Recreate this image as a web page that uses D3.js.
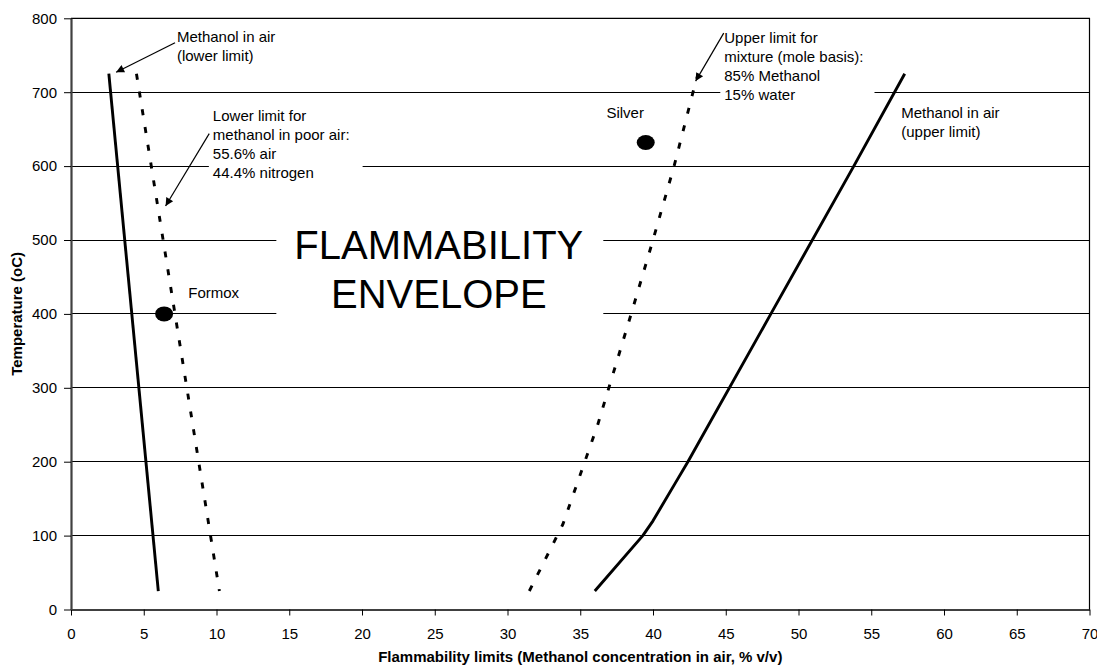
<!DOCTYPE html>
<html>
<head>
<meta charset="utf-8">
<script src="https://cdn.jsdelivr.net/npm/d3@7"></script>
<style>
  body { margin: 0; background: #fff; }
  svg { font-family: "Liberation Sans", Arial, sans-serif; }
</style>
</head>
<body>
<div id="chart"></div>
<script>
// flammability limits, methanol concentration (% v/v) against temperature (oC)
const xTickValues = [0, 5, 10, 15, 20, 25, 30, 35, 40, 45, 50, 55, 60, 65, 70]
const yTickValues = [0, 100, 200, 300, 400, 500, 600, 700, 800]

const lowerAirTemp = [725, 25]
const lowerAirConc = [2.6, 6.0]

const poorAirTemp = [725, 25]
const poorAirConc = [4.5, 10.2]

const mixUpperTemp = [25, 115, 250, 400, 500, 600, 700, 725]
const mixUpperConc = [31.5, 33.8, 36.2, 38.5, 40.0, 41.45, 42.75, 43.1]

const upperAirTemp = [25, 100, 120, 140, 170, 200, 400, 600, 725]
const upperAirConc = [36.0, 39.3, 40.0, 40.6, 41.5, 42.4, 48.1, 53.8, 57.3]

const plantNames = ["Formox", "Silver"]
const plantConc = [6.4, 39.5]
const plantTemp = [400, 632]

const w = 1097
const h = 667
const padL = 71, padR = 1089.5, padT = 18.3, padB = 609.5

const svg = d3.select("#chart").append("svg")
    .attr("width", w)
    .attr("height", h)

const x = d3.scaleLinear().domain([0, 70]).range([padL, padR])
const y = d3.scaleLinear().domain([0, 800]).range([padB, padT])

// grid lines
svg.append("g")
    .selectAll("line")
    .data(yTickValues.filter(d => d > 0 && d < 800))
    .enter()
    .append("line")
    .attr("x1", padL)
    .attr("x2", padR)
    .attr("y1", d => y(d))
    .attr("y2", d => y(d))
    .attr("stroke", "#000")
    .attr("stroke-width", 1)
    .attr("shape-rendering", "crispEdges")

// text labels (white boxes hide the grid behind them)
const notes = [
    { lines: ["Methanol in air", "(lower limit)"], c: 7.28, t: 768, size: 15, anchor: "start", pad: [3, 3, 4, 4] },
    { lines: ["Lower limit for", "methanol in poor air:", "55.6% air", "44.4% nitrogen"], c: 9.75, t: 661, size: 15, anchor: "start", pad: [4, 13, 8, 8] },
    { lines: ["Upper limit for", "mixture (mole basis):", "85% Methanol", "15% water"], c: 44.9, t: 767, size: 15, anchor: "start", pad: [4, 11, 4, 8] },
    { lines: ["Methanol in air", "(upper limit)"], c: 57.06, t: 665, size: 15, anchor: "start", pad: [3, 3, 4, 4] },
    { lines: ["Silver"], c: 36.8, t: 665, size: 15, anchor: "start", pad: [2, 2, 2, 2] },
    { lines: ["Formox"], c: 8.06, t: 421, size: 15, anchor: "start", pad: [2, 2, 2, 2] },
    { lines: ["FLAMMABILITY", "ENVELOPE"], c: 25.28, t: 474, size: 40, anchor: "middle", pad: [18, 20, 12, 14] }
]

const noteG = svg.append("g")
notes.forEach(n => {
    const g = noteG.append("g")
    const rect = g.append("rect").attr("fill", "#fff")
    const lh = n.size === 40 ? 49 : 19
    const txt = g.append("text")
        .attr("x", x(n.c))
        .attr("y", y(n.t))
        .attr("font-size", n.size)
        .attr("text-anchor", n.anchor)
        .attr("fill", "#000")
    n.lines.forEach((l, i) => {
        txt.append("tspan")
            .attr("x", x(n.c))
            .attr("dy", i === 0 ? 0 : lh)
            .text(l)
    })
    const b = txt.node().getBBox()
    rect.attr("x", b.x - n.pad[0])
        .attr("y", b.y - n.pad[2])
        .attr("width", b.width + n.pad[0] + n.pad[1])
        .attr("height", b.height + n.pad[2] + n.pad[3])
})

// frame top / right
svg.append("path")
    .attr("d", `M${padL},${y(800)}H${padR}V${padB}`)
    .attr("fill", "none")
    .attr("stroke", "#000")
    .attr("stroke-width", 1.2)

// series
const line = d3.line()
    .x(d => x(d[0]))
    .y(d => y(d[1]))

const series = [
    { c: lowerAirConc, t: lowerAirTemp, dash: null },
    { c: poorAirConc, t: poorAirTemp, dash: "6,12" },
    { c: mixUpperConc, t: mixUpperTemp, dash: "6,12" },
    { c: upperAirConc, t: upperAirTemp, dash: null }
]

svg.append("g")
    .selectAll("path")
    .data(series)
    .enter()
    .append("path")
    .attr("d", s => line(s.c.map((c, i) => [c, s.t[i]])))
    .attr("fill", "none")
    .attr("stroke", "#000")
    .attr("stroke-width", 2.9)
    .attr("stroke-linejoin", "round")
    .attr("stroke-dasharray", s => s.dash)

// operating points
svg.append("g")
    .selectAll("ellipse")
    .data(plantNames)
    .enter()
    .append("ellipse")
    .attr("cx", (d, i) => x(plantConc[i]))
    .attr("cy", (d, i) => y(plantTemp[i]))
    .attr("rx", 9)
    .attr("ry", 7.5)
    .attr("fill", "#000")

// arrows from labels to curves
svg.append("defs").append("marker")
    .attr("id", "head")
    .attr("viewBox", "0 0 10 10")
    .attr("refX", 10)
    .attr("refY", 5)
    .attr("markerWidth", 10)
    .attr("markerHeight", 8)
    .attr("markerUnits", "userSpaceOnUse")
    .attr("orient", "auto")
    .append("path")
    .attr("d", "M0,0L10,5L0,10z")
    .attr("fill", "#000")

const arrows = [
    [[7.15, 767], [3.1, 727]],
    [[9.5, 644], [6.5, 546]],
    [[44.86, 780], [42.93, 715]]
]

svg.append("g")
    .selectAll("line")
    .data(arrows)
    .enter()
    .append("line")
    .attr("x1", d => x(d[0][0]))
    .attr("y1", d => y(d[0][1]))
    .attr("x2", d => x(d[1][0]))
    .attr("y2", d => y(d[1][1]))
    .attr("stroke", "#000")
    .attr("stroke-width", 1.2)
    .attr("marker-end", "url(#head)")

// axes
const xAxis = d3.axisBottom(x)
    .tickValues(xTickValues)
    .tickSize(6)
    .tickSizeOuter(0)
    .tickPadding(13)

const xg = svg.append("g")
    .attr("transform", `translate(0,${padB})`)
    .call(xAxis)
xg.select(".domain").attr("stroke", "#000").attr("stroke-width", 1.6)
xg.selectAll("text").attr("font-size", 15).attr("fill", "#000")

const yAxis = d3.axisLeft(y)
    .tickValues(yTickValues)
    .tickSize(7)
    .tickSizeOuter(0)
    .tickPadding(7)

const yg = svg.append("g")
    .attr("transform", `translate(${padL},0)`)
    .call(yAxis)
yg.select(".domain").attr("stroke", "#404040").attr("stroke-width", 2.2)
yg.selectAll("text").attr("font-size", 15).attr("fill", "#000")

// axis titles
svg.append("text")
    .attr("x", (padL + padR) / 2)
    .attr("y", 662)
    .attr("text-anchor", "middle")
    .attr("font-size", 15)
    .attr("font-weight", "bold")
    .text("Flammability limits (Methanol concentration in air, % v/v)")

svg.append("text")
    .attr("transform", `translate(22,${(padT + padB) / 2}) rotate(-90)`)
    .attr("text-anchor", "middle")
    .attr("font-size", 15)
    .attr("font-weight", "bold")
    .text("Temperature (oC)")
</script>
</body>
</html>
